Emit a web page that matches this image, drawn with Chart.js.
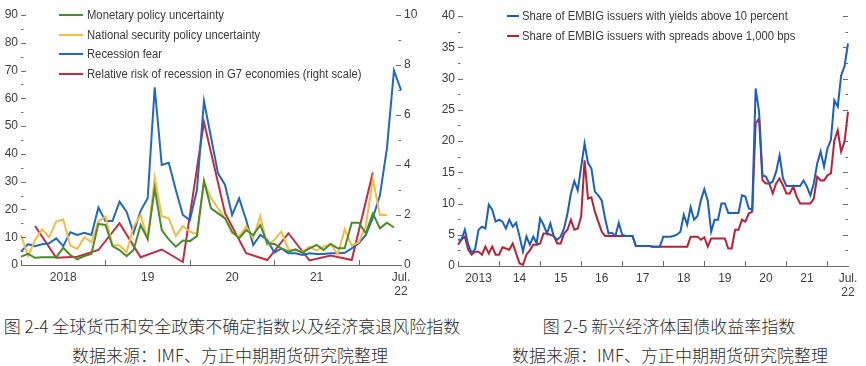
<!DOCTYPE html>
<html>
<head>
<meta charset="utf-8">
<script src="https://cdn.jsdelivr.net/npm/chart.js@4.4.1/dist/chart.umd.min.js"></script>
<style>
  body { margin: 0; width: 866px; height: 366px; background: #fff; position: relative; overflow: hidden; }
  #leftChart { position: absolute; left: 0; top: 0; }
  #rightChart { position: absolute; left: 430px; top: 0; }
  .cap { position: absolute; font-family: 'Noto Sans CJK SC', sans-serif; font-size: 17px; font-weight: 300; color: #2b2b2b;
         white-space: nowrap; transform: translate(-50%, -50%); line-height: 20px; }
</style>
</head>
<body>
<canvas id="leftChart" width="430" height="300"></canvas>
<canvas id="rightChart" width="436" height="300"></canvas>
<div class="cap" style="left:232px; top:326px;">图 2-4 全球货币和安全政策不确定指数以及经济衰退风险指数</div>
<div class="cap" style="left:230px; top:355px;">数据来源：IMF、方正中期期货研究院整理</div>
<div class="cap" style="left:669px; top:326px;">图 2-5 新兴经济体国债收益率指数</div>
<div class="cap" style="left:670px; top:355px;">数据来源：IMF、方正中期期货研究院整理</div>

<script>
function monthLabels(startYear, count) {
  const out = [];
  for (let i = 0; i < count; i++) {
    const y = startYear + Math.floor(i / 12), m = i % 12 + 1;
    out.push(y + '-' + String(m).padStart(2, '0'));
  }
  return out;
}

// ---- chart 2-4 data (monthly, Jan 2018 - Jul 2022) ----
const leftMonths = monthLabels(2018, 55);
const leftTickAt = ['2018-07', '2019-07', '2020-07', '2021-07', '2022-07'];
const leftTickText = ['2018', '19', '20', '21', ['Jul.', '22']];

const monetary = [3, 4, 2.6, 2.8, 2.8, 2.8, 6.2, 3.6, 2, 3.2,
  4, 14.8, 14.4, 6.8, 5.4, 3.2, 5.4, 14.4, 9.4, 27.6,
  12.6, 9.2, 6.6, 8.8, 8.6, 10.4, 30.3, 20.4, 18.6, 16.8,
  12, 9.6, 12.6, 10.8, 14.4, 7.8, 7.6, 6, 4.8, 5.6,
  4.4, 6, 7.2, 5.4, 7.6, 6, 6, 15.2, 15.2, 11.4,
  18.6, 13.2, 15.2, 13.5, null];

const security = [10.8, 3.2, 9, 12.8, 10, 15.6, 16.4, 7, 5.8, 10,
  8.2, 15.8, 17.4, 7.2, 7, 4.6, 13.8, 18, 9.2, 31.5,
  17.6, 16.8, 10.4, 14, 12, 11.2, 30, 24, 20.4, 16.8,
  11.4, 10.2, 13.8, 9.6, 17.6, 7.2, 9, 12, 5.6, 5.2,
  4.8, 6.6, 5.2, 6.6, 7.6, 3.8, 12.8, 7, 8.2, 14,
  31, 18, 18, null, null];

const recessionFear = [4.8, 7.5, 6.8, 7.5, 7.8, 9.6, 6.8, 11.8, 10.8, 11.6,
  10.8, 20.7, 15.8, 15.8, 22.8, 19.2, 11.6, 19.5, 24, 64,
  36, 36.8, 27, 18, 16.2, 27, 59, 46, 33, 28.8,
  18, 24, 16.2, 7.2, 10.8, 9, 4.5, 6, 4.2, 4.2,
  3.6, 4.2, 4, 4, 4.2, 4.2, 4.4, 6, 7.8, 10.8,
  17, 25, 42, 70, 63];

// quarterly, right scale
const g7Risk = [null, null, 1.56, null, null, 0.29, null, null, 0.33, null, null, 0.60,
  null, null, 1.67, null, null, 0.31, null, null, 0.62, null, null, 0.12,
  null, null, 5.72, null, null, 2.07, null, null, 0.47, null, null, 0.20,
  null, null, 1.27, null, null, 0.18, null, null, 0.38, null, null, 0.20,
  null, null, 3.70, null, null, null, null];

// ---- chart 2-5 data (monthly, Jan 2013 - Jul 2022) ----
const rightMonths = monthLabels(2013, 115);
const rightTickAt = ['2013-07', '2014-07', '2015-07', '2016-07', '2017-07', '2018-07', '2019-07', '2020-07', '2021-07', '2022-07'];
const rightTickText = ['2013', '14', '15', '16', '17', '18', '19', '20', '21', ['Jul.', '22']];

const yieldsAbove10 = [4.2, 4.2, 5.8, 3.4, 2.1, 2.7, 5.8, 6.3, 6, 9.8,
  9, 7.1, 7.4, 7.1, 6, 7.4, 6.3, 6.9, 4.7, 2.3,
  4.7, 3.4, 4.7, 3.6, 7.6, 6.6, 5.2, 6.8, 4.7, 4.2,
  4.7, 6, 8.4, 11.6, 13.6, 12.1, 15.9, 19.6, 16.5, 15.6,
  11.9, 11.3, 10.5, 7.6, 5.2, 5.3, 4.8, 6.9, 5, 4.8,
  4.8, 4.8, 3.2, 3.2, 3.2, 3.2, 3.2, 3.1, 3.1, 3.1,
  4.7, 4.7, 4.7, 4.8, 5, 5.5, 8.2, 6.6, 9.4, 7.4,
  8, 10.5, 12.3, 10.5, 5.5, 7.4, 7.4, 10, 10, 8.5,
  8.5, 8.5, 8.5, 11.3, 11.1, 9.2, 9, 28.4, 24.7, 14.5,
  14.3, 13.2, 13.5, 15.1, 17.7, 14, 12.8, 12.8, 12.8, 12.8,
  12.8, 13.7, 12.7, 11.3, 13.2, 16.4, 18.3, 15.9, 18.8, 20.2,
  26.5, 25.5, 30.5, 32, 35.6];

const spreadsAbove1000 = [3.4, 4.2, 4.7, 2.6, 1.8, 2.3, 2.3, 1.8, 3.1, 2,
  3.1, 1.8, 1.8, 3, 2.8, 2.6, 3.6, 2, 0.4, 0.2,
  1.8, 2.5, 3.4, 3.4, 3.6, 5.2, 5.2, 5, 4.8, 3.6,
  3.6, 5.2, 5.8, 7.4, 5.8, 6, 7.9, 16.9, 10.8, 11,
  8.7, 7.1, 5.5, 4.8, 4.8, 4.8, 4.8, 4.8, 4.8, 4.8,
  4.8, 4.8, 3.2, 3.2, 3.2, 3.2, 3.2, 3.1, 3.1, 3.1,
  3.1, 3.1, 3.1, 3.1, 3.1, 3.1, 3.1, 3.1, 4.7, 4.7,
  4.7, 4.2, 4.6, 3.1, 4.4, 4.4, 4.4, 4.4, 4.4, 2.8,
  2.8, 5.8, 5.8, 7.4, 7.1, 8.4, 8.7, 22.8, 23.6, 13.7,
  13.2, 13.2, 11.6, 13.2, 14, 12.9, 11.6, 11.6, 12.7, 11.1,
  10, 10, 10, 10, 10.8, 14.3, 13.7, 13.7, 14.5, 14.8,
  20.1, 21.7, 18.3, 19.9, 24.7];

const tickColor = '#3d3d3d';
const tickFont = { family: "'Liberation Sans Narrow', 'Liberation Sans', sans-serif", size: 12 };

// small tick marks pointing into the plot, like the original
const innerTicks = {
  id: 'innerTicks',
  afterDraw(chart, args, opts) {
    const ctx = chart.ctx;
    const area = chart.chartArea;
    ctx.save();
    ctx.strokeStyle = '#6b6b6b';
    ctx.lineWidth = 1;
    opts.y.forEach(ax => {
      const scale = chart.scales[ax.id];
      for (let v = scale.min; v <= scale.max + 1e-9; v += ax.minor) {
        const isMajor = Math.abs(v / ax.major - Math.round(v / ax.major)) < 1e-6;
        const len = isMajor ? 5 : 2.5;
        const y = Math.round(scale.getPixelForValue(v)) + 0.5;
        const x0 = ax.side === 'left' ? area.left : area.right;
        const x1 = ax.side === 'left' ? x0 + len : x0 - len;
        ctx.beginPath(); ctx.moveTo(x0, y); ctx.lineTo(x1, y); ctx.stroke();
      }
    });
    const xs = chart.scales.x;
    chart.data.labels.forEach((lab, i) => {
      if (!lab.endsWith('-01')) return;
      const x = Math.round(xs.getPixelForValue(i)) + 0.5;
      ctx.beginPath(); ctx.moveTo(x, area.bottom); ctx.lineTo(x, area.bottom - 5); ctx.stroke();
    });
    ctx.restore();
  }
};

// legend drawn inside the plot area
const insideLegend = {
  id: 'insideLegend',
  afterDraw(chart, args, o) {
    const ctx = chart.ctx, a = chart.chartArea;
    ctx.save();
    ctx.font = '12.5px "Liberation Sans", Arial, sans-serif';
    ctx.textBaseline = 'middle';
    chart.data.datasets.forEach((ds, i) => {
      const y = Math.round(a.top + o.top + i * o.rowGap);
      ctx.strokeStyle = ds.borderColor;
      ctx.lineWidth = 2;
      ctx.beginPath(); ctx.moveTo(a.left + o.lineFrom, y); ctx.lineTo(a.left + o.lineTo, y); ctx.stroke();
      ctx.fillStyle = '#3a3a3a';
      const w = ctx.measureText(ds.label).width;
      ctx.fillText(ds.label, a.left + o.textX, y + 1, w * o.squeeze);
    });
    ctx.restore();
  }
};

function xAxis(tickAt, tickText, height) {
  return {
    type: 'category',
    grid: { display: false, drawTicks: false },
    border: { display: true, color: '#6b6b6b' },
    ticks: {
      autoSkip: false, maxRotation: 0, padding: 5, color: tickColor, font: tickFont,
      callback: function (val) {
        const k = tickAt.indexOf(this.getLabelForValue(val));
        return k < 0 ? '' : tickText[k];
      }
    },
    afterFit: s => { s.height = height; }
  };
}

function yAxis(side, min, max, step, width, showLabels) {
  return {
    position: side, min: min, max: max,
    grid: { display: false, drawTicks: false },
    border: { display: false },
    ticks: { stepSize: step, padding: 3, color: tickColor, font: tickFont, display: showLabels },
    afterFit: s => { s.width = width; }
  };
}

// chart 2-4
new Chart(document.getElementById('leftChart'), {
  type: 'line',
  data: {
    labels: leftMonths,
    datasets: [
      { label: 'Monetary policy uncertainty', data: monetary, borderColor: '#4a8b2c', yAxisID: 'y' },
      { label: 'National security policy uncertainty', data: security, borderColor: '#f6bb47', yAxisID: 'y' },
      { label: 'Recession fear', data: recessionFear, borderColor: '#1f68c6', yAxisID: 'y' },
      { label: 'Relative risk of recession in G7 economies (right scale)', data: g7Risk, borderColor: '#c32a3f', yAxisID: 'y1', spanGaps: true }
    ]
  },
  options: {
    responsive: false,
    animation: false,
    devicePixelRatio: 1,
    layout: { padding: { top: 15, left: 0, right: 0, bottom: 0 } },
    elements: { point: { radius: 0 }, line: { borderWidth: 2, tension: 0 } },
    scales: {
      x: xAxis(leftTickAt, leftTickText, 35),
      y: yAxis('left', 0, 90, 10, 21, true),
      y1: yAxis('right', 0, 10, 2, 29, true)
    },
    plugins: {
      legend: { display: false },
      tooltip: { enabled: false },
      innerTicks: { y: [{ id: 'y', side: 'left', major: 10, minor: 5 }, { id: 'y1', side: 'right', major: 2, minor: 1 }] },
      insideLegend: { top: 0, rowGap: 19.6, lineFrom: 38, lineTo: 62, textX: 66, squeeze: 0.9 }
    }
  },
  plugins: [innerTicks, insideLegend]
});

// chart 2-5
new Chart(document.getElementById('rightChart'), {
  type: 'line',
  data: {
    labels: rightMonths,
    datasets: [
      { label: 'Share of EMBIG issuers with yields above 10 percent', data: yieldsAbove10, borderColor: '#1a5fc4' },
      { label: 'Share of EMBIG issuers with spreads above 1,000 bps', data: spreadsAbove1000, borderColor: '#bb2037' }
    ]
  },
  options: {
    responsive: false,
    animation: false,
    devicePixelRatio: 1,
    layout: { padding: { top: 16, left: 0, right: 18, bottom: 0 } },
    elements: { point: { radius: 0 }, line: { borderWidth: 2, tension: 0 } },
    scales: {
      x: xAxis(rightTickAt, rightTickText, 34),
      y: yAxis('left', 0, 40, 5, 28, true)
    },
    plugins: {
      legend: { display: false },
      tooltip: { enabled: false },
      innerTicks: { y: [{ id: 'y', side: 'left', major: 5, minor: 2.5 }, { id: 'y', side: 'right', major: 5, minor: 2.5 }] },
      insideLegend: { top: 0, rowGap: 20, lineFrom: 49, lineTo: 61, textX: 64, squeeze: 0.9 }
    }
  },
  plugins: [innerTicks, insideLegend]
});
</script>
</body>
</html>
